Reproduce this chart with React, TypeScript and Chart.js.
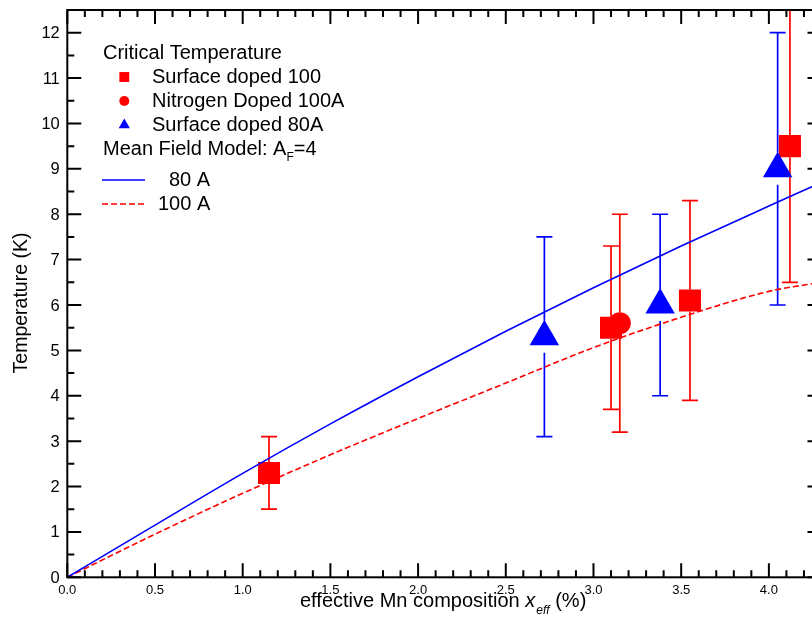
import React, { useEffect, useRef } from 'react';
import { Chart, registerables } from 'chart.js';

Chart.register(...registerables);

const RED = 'rgb(255,0,0)';
const BLUE = 'rgb(0,0,255)';
const FONT = '"Liberation Sans", Arial, sans-serif';

// Mean field model curves (A_F = 4)
const modelX = [0, 0.5, 1.0, 1.5, 2.0, 2.5, 3.0, 3.5, 4.0, 4.3];
const model80A = [0, 1.15, 2.29, 3.38, 4.42, 5.42, 6.38, 7.3, 8.18, 8.7];
const model100A = [0, 0.95, 1.85, 2.7, 3.5, 4.28, 5.06, 5.73, 6.3, 6.5];

// Surface doped 100 (red squares)
const surf100X = [1.15, 3.1, 3.55, 4.12];
const surf100Y = [2.3, 5.5, 6.1, 9.5];
const surf100Lo = [1.5, 3.7, 3.9, 6.5];
const surf100Hi = [3.1, 7.3, 8.3, 12.5];

// Nitrogen doped 100A (red circle)
const nitroX = [3.15];
const nitroY = [5.6];
const nitroLo = [3.2];
const nitroHi = [8.0];

// Surface doped 80A (blue triangles)
const surf80X = [2.72, 3.38, 4.05];
const surf80Y = [5.3, 6.0, 9.0];
const surf80Lo = [3.1, 4.0, 6.0];
const surf80Hi = [7.5, 8.0, 12.0];

// Axes
const X_MIN = 0;
const X_MAX = 4.3;
const Y_MIN = 0;
const Y_MAX = 12.5;
const xTickValues = [0, 0.5, 1.0, 1.5, 2.0, 2.5, 3.0, 3.5, 4.0];
const xTickLabels = ['0.0', '0.5', '1.0', '1.5', '2.0', '2.5', '3.0', '3.5', '4.0'];
const xMinorStep = 0.1;
const yTickValues = [0, 1, 2, 3, 4, 5, 6, 7, 8, 9, 10, 11, 12];
const yTickLabels = ['0', '1', '2', '3', '4', '5', '6', '7', '8', '9', '10', '11', '12'];
const yMinorStep = 0.5;

const pts = (xs: number[], ys: number[]) => xs.map((x, i) => ({ x, y: ys[i] }));

const errorSets = [
  { xs: surf100X, ys: surf100Y, lo: surf100Lo, hi: surf100Hi, color: RED, gap: 11 },
  { xs: nitroX, ys: nitroY, lo: nitroLo, hi: nitroHi, color: RED, gap: 11 },
  { xs: surf80X, ys: surf80Y, lo: surf80Lo, hi: surf80Hi, color: BLUE, gap: 16 },
];

function drawMarker(ctx: CanvasRenderingContext2D, style: string, x: number, y: number, r: number) {
  ctx.beginPath();
  if (style === 'rect') {
    const s = r * Math.SQRT1_2;
    ctx.rect(x - s, y - s, 2 * s, 2 * s);
  } else if (style === 'circle') {
    ctx.arc(x, y, r, 0, Math.PI * 2);
  } else {
    const t = (2 * Math.PI) / 3;
    ctx.moveTo(x, y - r);
    ctx.lineTo(x + Math.sin(t) * r, y - Math.cos(t) * r);
    ctx.lineTo(x + Math.sin(2 * t) * r, y - Math.cos(2 * t) * r);
    ctx.closePath();
  }
  ctx.fill();
}

const errorBarPlugin = {
  id: 'errorBars',
  beforeDatasetsDraw(chart: any) {
    const { ctx, chartArea } = chart;
    const xs = chart.scales.x;
    const ys = chart.scales.y;
    ctx.save();
    ctx.beginPath();
    ctx.rect(chartArea.left, chartArea.top - 1, chartArea.right - chartArea.left, chartArea.bottom - chartArea.top + 2);
    ctx.clip();
    ctx.lineWidth = 1.7;
    for (const s of errorSets) {
      ctx.strokeStyle = s.color;
      s.xs.forEach((xv: number, i: number) => {
        const px = xs.getPixelForValue(xv);
        const py = ys.getPixelForValue(s.ys[i]);
        const pHi = ys.getPixelForValue(s.hi[i]);
        const pLo = ys.getPixelForValue(s.lo[i]);
        ctx.beginPath();
        ctx.moveTo(px, pHi);
        ctx.lineTo(px, py - s.gap);
        ctx.moveTo(px, py + s.gap);
        ctx.lineTo(px, pLo);
        ctx.moveTo(px - 8, pHi);
        ctx.lineTo(px + 8, pHi);
        ctx.moveTo(px - 8, pLo);
        ctx.lineTo(px + 8, pLo);
        ctx.stroke();
      });
    }
    ctx.restore();
  },
};

const frameLegendPlugin = {
  id: 'frameLegend',
  afterDraw(chart: any) {
    const { ctx, chartArea: a } = chart;
    const xs = chart.scales.x;
    const ys = chart.scales.y;
    ctx.save();
    // frame
    ctx.strokeStyle = '#000';
    ctx.lineWidth = 2;
    ctx.strokeRect(a.left, a.top, a.right - a.left, a.bottom - a.top);
    // ticks (inward, on all four sides)
    ctx.beginPath();
    for (let k = 0; X_MIN + k * xMinorStep <= X_MAX + 1e-9; k++) {
      const v = X_MIN + k * xMinorStep;
      const len = k % 5 === 0 ? 14 : 7;
      const px = xs.getPixelForValue(v);
      ctx.moveTo(px, a.bottom);
      ctx.lineTo(px, a.bottom - len);
      ctx.moveTo(px, a.top);
      ctx.lineTo(px, a.top + len);
    }
    for (let k = 0; Y_MIN + k * yMinorStep <= Y_MAX + 1e-9; k++) {
      const v = Y_MIN + k * yMinorStep;
      const len = k % 2 === 0 ? 14 : 7;
      const py = ys.getPixelForValue(v);
      ctx.moveTo(a.left, py);
      ctx.lineTo(a.left + len, py);
      ctx.moveTo(a.right, py);
      ctx.lineTo(a.right - len, py);
    }
    ctx.stroke();

    ctx.fillStyle = '#000';
    // x tick labels
    ctx.font = `13px ${FONT}`;
    ctx.textAlign = 'center';
    ctx.textBaseline = 'middle';
    xTickValues.forEach((v, i) => {
      ctx.fillText(xTickLabels[i], xs.getPixelForValue(v), a.bottom + 13.5);
    });
    // y tick labels
    ctx.font = `16.5px ${FONT}`;
    ctx.textAlign = 'right';
    yTickValues.forEach((v, i) => {
      ctx.fillText(yTickLabels[i], a.left - 7.5, ys.getPixelForValue(v) + 1);
    });

    // x title
    ctx.textAlign = 'left';
    ctx.textBaseline = 'alphabetic';
    let cx = 300;
    const by = 607;
    ctx.font = `20px ${FONT}`;
    const t1 = 'effective Mn composition ';
    ctx.fillText(t1, cx, by);
    cx += ctx.measureText(t1).width;
    ctx.font = `italic 20px ${FONT}`;
    ctx.fillText('x', cx, by);
    cx += ctx.measureText('x').width + 1;
    ctx.font = `italic 12px ${FONT}`;
    ctx.fillText('eff', cx, by + 7);
    cx += ctx.measureText('eff').width;
    ctx.font = `20px ${FONT}`;
    ctx.fillText(' (%)', cx, by);

    // y title
    ctx.save();
    ctx.translate(22, 303);
    ctx.rotate(-Math.PI / 2);
    ctx.textAlign = 'center';
    ctx.textBaseline = 'middle';
    ctx.font = `19.5px ${FONT}`;
    ctx.fillText('Temperature (K)', 0, 0);
    ctx.restore();

    // legend
    ctx.font = `20px ${FONT}`;
    ctx.textAlign = 'left';
    ctx.textBaseline = 'middle';
    ctx.fillText('Critical Temperature', 103, 53);
    const items = [
      { label: 'Surface doped 100', style: 'rect', color: RED, r: 7, y: 77 },
      { label: 'Nitrogen Doped 100A', style: 'circle', color: RED, r: 5, y: 101 },
      { label: 'Surface doped 80A', style: 'triangle', color: BLUE, r: 6.5, y: 125 },
    ];
    for (const it of items) {
      ctx.fillStyle = it.color;
      drawMarker(ctx, it.style, 124.3, it.y, it.r);
      ctx.fillStyle = '#000';
      ctx.fillText(it.label, 152, it.y);
    }
    let mx = 103;
    const mt = 'Mean Field Model: A';
    ctx.fillText(mt, mx, 149);
    mx += ctx.measureText(mt).width;
    ctx.font = `12px ${FONT}`;
    ctx.fillText('F', mx, 158);
    mx += ctx.measureText('F').width;
    ctx.font = `20px ${FONT}`;
    ctx.fillText('=4', mx, 149);

    ctx.lineWidth = 1.5;
    ctx.strokeStyle = BLUE;
    ctx.setLineDash([]);
    ctx.beginPath();
    ctx.moveTo(102, 180);
    ctx.lineTo(145, 180);
    ctx.stroke();
    ctx.fillText('80 A', 169, 180);
    ctx.strokeStyle = RED;
    ctx.setLineDash([6, 3]);
    ctx.beginPath();
    ctx.moveTo(102, 204);
    ctx.lineTo(145, 204);
    ctx.stroke();
    ctx.setLineDash([]);
    ctx.fillText('100 A', 158, 204);
    ctx.restore();
  },
};

export default function App() {
  const ref = useRef<HTMLCanvasElement | null>(null);
  useEffect(() => {
    if (!ref.current) return;
    const chart = new Chart(ref.current, {
      type: 'scatter',
      data: {
        datasets: [
          {
            type: 'line',
            label: '80 A',
            data: pts(modelX, model80A),
            borderColor: BLUE,
            borderWidth: 1.6,
            pointRadius: 0,
            cubicInterpolationMode: 'monotone',
            fill: false,
            order: 0,
          },
          {
            type: 'scatter',
            label: 'Surface doped 80A',
            data: pts(surf80X, surf80Y),
            pointStyle: 'triangle',
            pointRadius: 17,
            backgroundColor: BLUE,
            borderColor: BLUE,
            borderWidth: 0,
            order: 1,
          },
          {
            type: 'scatter',
            label: 'Nitrogen Doped 100A',
            data: pts(nitroX, nitroY),
            pointStyle: 'circle',
            pointRadius: 11,
            backgroundColor: RED,
            borderColor: RED,
            borderWidth: 0,
            order: 2,
          },
          {
            type: 'scatter',
            label: 'Surface doped 100',
            data: pts(surf100X, surf100Y),
            pointStyle: 'rect',
            pointRadius: 15.6,
            backgroundColor: RED,
            borderColor: RED,
            borderWidth: 0,
            order: 3,
          },
          {
            type: 'line',
            label: '100 A',
            data: pts(modelX, model100A),
            borderColor: RED,
            borderWidth: 1.6,
            borderDash: [6, 3],
            pointRadius: 0,
            cubicInterpolationMode: 'monotone',
            fill: false,
            order: 4,
          },
        ],
      },
      options: {
        animation: false,
        responsive: false,
        devicePixelRatio: 1,
        layout: { autoPadding: false, padding: { left: 67.3, right: 8.5, top: 10, bottom: 40.7 } },
        plugins: { legend: { display: false }, tooltip: { enabled: false } },
        events: [],
        scales: {
          x: { type: 'linear', min: X_MIN, max: X_MAX, display: false },
          y: { type: 'linear', min: Y_MIN, max: Y_MAX, display: false },
        },
      },
      plugins: [errorBarPlugin, frameLegendPlugin],
    } as any);
    return () => chart.destroy();
  }, []);
  return (
    <div style={{ position: 'fixed', left: 0, top: 0, width: 812, height: 618, overflow: 'hidden', background: '#fff' }}>
      <canvas ref={ref} width={830} height={618} style={{ display: 'block', width: 830, height: 618 }} />
    </div>
  );
}
